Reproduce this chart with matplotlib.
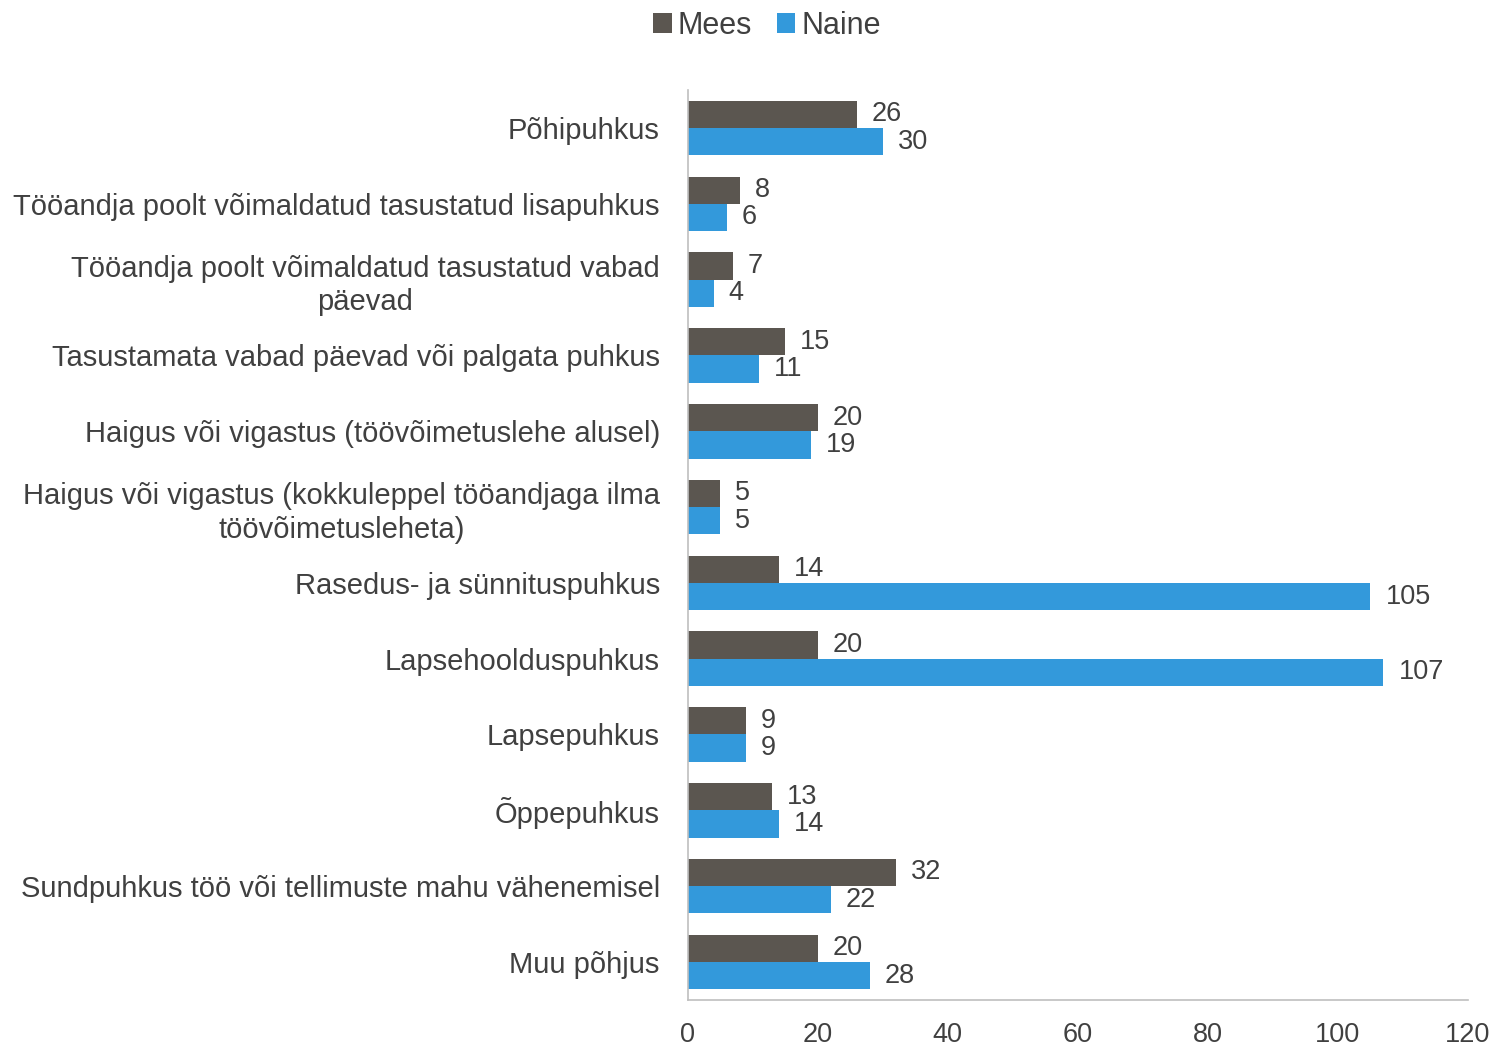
import matplotlib
matplotlib.use("Agg")
import matplotlib.pyplot as plt
import numpy as np

categories = [
    "Põhipuhkus",
    "Tööandja poolt võimaldatud tasustatud lisapuhkus",
    "Tööandja poolt võimaldatud tasustatud vabad\npäevad",
    "Tasustamata vabad päevad või palgata puhkus",
    "Haigus või vigastus (töövõimetuslehe alusel)",
    "Haigus või vigastus (kokkuleppel tööandjaga ilma\ntöövõimetusleheta)",
    "Rasedus- ja sünnituspuhkus",
    "Lapsehoolduspuhkus",
    "Lapsepuhkus",
    "Õppepuhkus",
    "Sundpuhkus töö või tellimuste mahu vähenemisel",
    "Muu põhjus",
]
mees = [26, 8, 7, 15, 20, 5, 14, 20, 9, 13, 32, 20]
naine = [30, 6, 4, 11, 19, 5, 105, 107, 9, 14, 22, 28]
xticks = [0, 20, 40, 60, 80, 100, 120]

plt.rcParams['font.family'] = ['Liberation Sans', 'DejaVu Sans']
C_MEES = "#5B5650"
C_NAINE = "#3399DB"
TXT = "#404040"

fig = plt.figure(figsize=(14.98, 10.48), dpi=100)
ax = fig.add_axes([0.459, 0.046, 0.521, 0.868])

y = np.arange(len(categories))
h = 0.36
b1 = ax.barh(y - h / 2, mees, height=h, color=C_MEES, label="Mees")
b2 = ax.barh(y + h / 2, naine, height=h, color=C_NAINE, label="Naine")
for bars, vals in ((b1, mees), (b2, naine)):
    for r, v in zip(bars, vals):
        ax.text(r.get_width() + 2.3, r.get_y() + r.get_height() / 2, str(v),
                va="center", ha="left", fontsize=19.5, color=TXT)

ax.set_ylim(len(categories) - 0.5, -0.5)
ax.set_xlim(0, 120)
ax.set_xticks(xticks)
ax.set_xticklabels([str(t) for t in xticks])
ax.set_yticks(y)
ax.set_yticklabels(categories, fontsize=21, color=TXT, linespacing=1.25,
                   multialignment="center")
ax.tick_params(axis="x", labelsize=19.5, colors=TXT, length=0, pad=16)
ax.tick_params(axis="y", length=0, pad=20)
for s in ("top", "right"):
    ax.spines[s].set_visible(False)
for s in ("left", "bottom"):
    ax.spines[s].set_color("#BFBFBF")
    ax.spines[s].set_linewidth(1.2)

fig.legend(handles=[b1, b2], labels=["Mees", "Naine"], loc="upper center",
           bbox_to_anchor=(0.512, 1.016), ncol=2, frameon=False, fontsize=22,
           handlelength=0.6, handleheight=0.6, handletextpad=0.2, columnspacing=0.8,
           labelcolor=TXT)

fig.savefig("out.png", dpi=100)
